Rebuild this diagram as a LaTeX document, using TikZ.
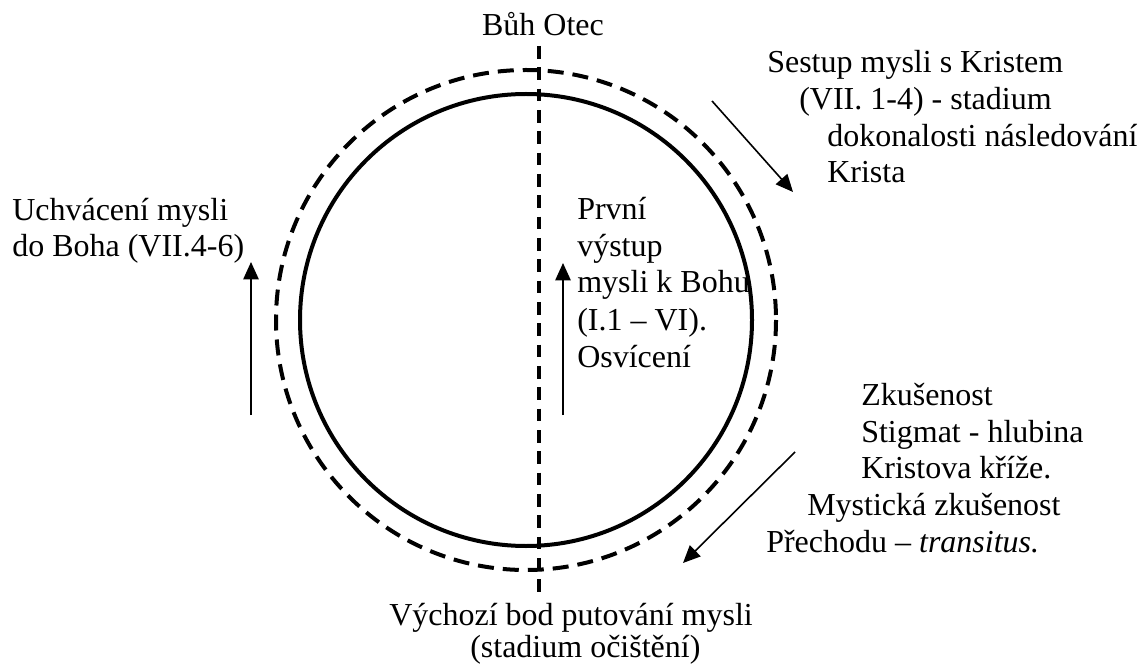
\documentclass[tikz,border=0pt]{standalone}
\usepackage{fontspec}
\setmainfont{Liberation Serif}
\usetikzlibrary{arrows.meta}
\begin{document}
\begin{tikzpicture}[x=0.75pt,y=-0.75pt,
  lbl/.style={anchor=base west, inner sep=0pt, font=\fontsize{24}{27.5}\selectfont},
  clbl/.style={lbl, anchor=base},
  flow/.style={line width=1.2pt, -{Triangle[length=13pt,width=11.5pt]}},
  axis/.style={line width=2.4pt, dash pattern=on 9.5pt off 6.5pt},
  ring/.style={line width=3pt},
  halo/.style={line width=3pt, dash pattern=on 12pt off 6.75pt}]
\useasboundingbox (0,0) rectangle (1141,666);

% the two circles
\coordinate (c) at (526,320);
\draw[ring] (c) circle[radius=226];
\draw[halo] (c) circle[radius=250];

% vertical axis
\coordinate (axtop) at (539,46);
\coordinate (axbot) at (539,597);
\draw[axis] (axtop) -- (axbot);

% top and bottom labels
\node[clbl] (father) at (543,36) {Bůh Otec};
\node[lbl] (start1) at (389,625) {Výchozí bod putování mysli};
\node[lbl] (start2) at (470,657) {(stadium očištění)};

% left label and arrow
\node[lbl] (rap1) at (12,221) {Uchvácení mysli};
\node[lbl] (rap2) at (12,257) {do Boha (VII.4-6)};
\coordinate (la0) at (251,415);
\coordinate (la1) at (251,262);
\draw[flow] (la0) -- (la1);

% central label and arrow
\node[lbl] (asc1) at (577,220) {První};
\node[lbl] (asc2) at (577,257) {výstup};
\node[lbl] (asc3) at (577,293) {mysli k Bohu};
\node[lbl] (asc4) at (577,330) {(I.1 – VI).};
\node[lbl] (asc5) at (577,367) {Osvícení};
\coordinate (ma0) at (563,415);
\coordinate (ma1) at (563,263);
\draw[flow] (ma0) -- (ma1);

% upper right label and arrow
\node[lbl] (des1) at (767,73) {Sestup mysli s Kristem};
\node[lbl] (des2) at (799,110) {(VII. 1-4) - stadium};
\node[lbl] (des3) at (827,147) {dokonalosti následování};
\node[lbl] (des4) at (827,183) {Krista};
\coordinate (ra0) at (712,101);
\coordinate (ra1) at (793,192);
\draw[flow] (ra0) -- (ra1);

% lower right label and arrow
\node[lbl] (exp1) at (861,405) {Zkušenost};
\node[lbl] (exp2) at (861,442) {Stigmat - hlubina};
\node[lbl] (exp3) at (861,478) {Kristova kříže.};
\node[lbl] (exp4) at (807,515) {Mystická zkušenost};
\node[lbl] (exp5) at (766,552) {Přechodu – \textit{transitus.}};
\coordinate (ba0) at (795,452);
\coordinate (ba1) at (683,563);
\draw[flow] (ba0) -- (ba1);
\end{tikzpicture}
\end{document}
